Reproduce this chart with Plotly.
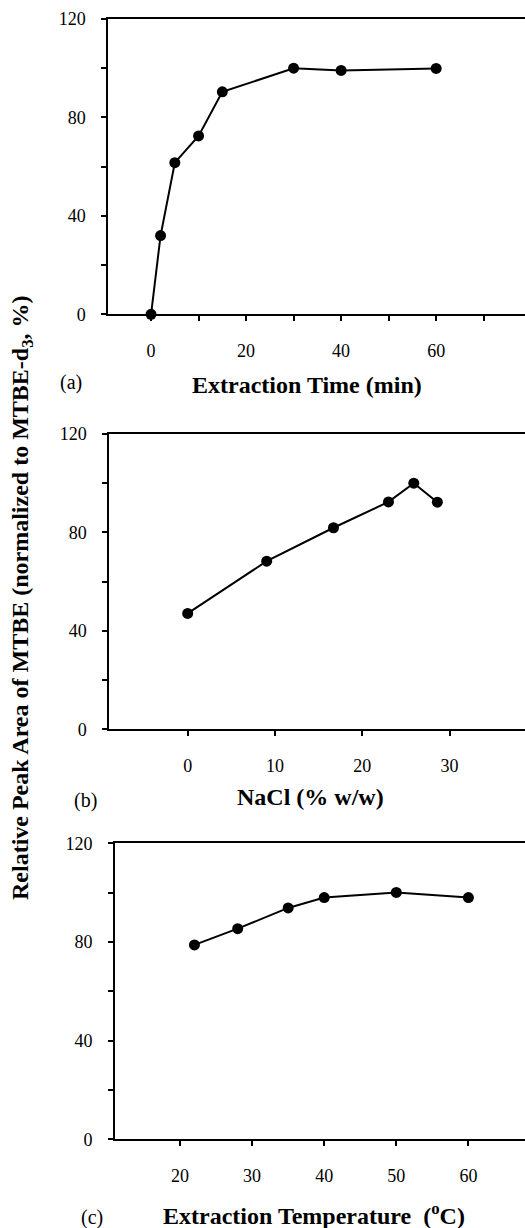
import plotly.graph_objects as go

# Panel (a): extraction time
time_min = [0, 2, 5, 10, 15, 30, 40, 60]
area_time = [0, 32, 61.6, 72.5, 90.4, 100, 99.1, 99.9]

# Panel (b): NaCl
nacl = [0, 9.05, 16.7, 23.0, 25.9, 28.6]
area_nacl = [47.1, 68.3, 81.9, 92.4, 100, 92.3]

# Panel (c): extraction temperature
temp_c = [22, 28, 35, 40, 50, 60]
area_temp = [78.8, 85.4, 93.8, 98.0, 100.1, 98.0]

W, H = 525, 1228
FONT = "Liberation Serif"

fig = go.Figure()
panels = [
    (time_min, area_time, "x", "y"),
    (nacl, area_nacl, "x2", "y2"),
    (temp_c, area_temp, "x3", "y3"),
]
for xs, ys, xa, ya in panels:
    fig.add_trace(go.Scatter(
        x=xs, y=ys, xaxis=xa, yaxis=ya, mode="lines+markers",
        line=dict(color="black", width=2),
        marker=dict(color="black", size=11),
        showlegend=False, cliponaxis=False,
    ))

def px_dom_x(left):
    return [left / W, 1.0]

def px_dom_y(top, bottom):
    return [1 - bottom / H, 1 - top / H]

common_x = dict(
    showline=True, linewidth=2, linecolor="black", mirror=True,
    ticks="outside", ticklen=5, tickwidth=1.5, tickcolor="black",
    showgrid=False, zeroline=False, automargin=False,
    tickfont=dict(family=FONT, size=18, color="black"),
    ticklabelstandoff=14,
)
common_y = dict(
    showline=True, linewidth=2, linecolor="black", mirror=False,
    ticks="outside", ticklen=5, tickwidth=1.5, tickcolor="black",
    showgrid=False, zeroline=False, automargin=False,
    range=[0, 120], tick0=0, dtick=40,
    minor=dict(ticks="outside", ticklen=5, tickwidth=1.5, tickcolor="black", dtick=20, tick0=0, showgrid=False),
    tickfont=dict(family=FONT, size=18, color="black"),
    ticklabelstandoff=12,
)

fig.update_layout(
    width=W, height=H, autosize=False,
    margin=dict(l=0, r=0, t=0, b=0, pad=0, autoexpand=False),
    paper_bgcolor="white", plot_bgcolor="white",
    font=dict(family=FONT, color="black"),
    xaxis=dict(common_x, domain=px_dom_x(108.3), range=[-9, 78.7], anchor="y",
               tick0=0, dtick=20,
               minor=dict(ticks="outside", ticklen=5, tickwidth=1.5, tickcolor="black", dtick=10, tick0=0, showgrid=False)),
    yaxis=dict(common_y, domain=px_dom_y(19, 314.3), anchor="x"),
    xaxis2=dict(common_x, domain=px_dom_x(109.3), range=[-8.98, 38.64], anchor="y2",
                tick0=0, dtick=10),
    yaxis2=dict(common_y, domain=px_dom_y(434, 729.3), anchor="x2"),
    xaxis3=dict(common_x, domain=px_dom_x(115), range=[10.98, 67.85], anchor="y3",
                tick0=0, dtick=10),
    yaxis3=dict(common_y, domain=px_dom_y(843.3, 1139.3), anchor="x3"),
)

def ann(text, x, y, size, angle=0):
    fig.add_annotation(
        text=text, x=x / W, y=1 - y / H, xref="paper", yref="paper",
        xanchor="center", yanchor="middle", showarrow=False, textangle=angle,
        font=dict(family=FONT, size=size, color="black"),
    )

ann("<b>Extraction Time (min)</b>", 307, 385, 24)
ann("<b>NaCl (% w/w)</b>", 310, 797, 24)
ann("<b>Extraction Temperature  (<sup>o</sup>C)</b>", 314, 1214, 24)
ann("(a)", 71, 382, 20)
ann("(b)", 85, 800, 20)
ann("(c)", 92, 1217, 20)
ann("<b>Relative Peak Area of MTBE (normalized to MTBE-d<sub>3</sub>, %)</b>", 22, 598, 24, angle=-90)

fig.write_html(
    "out.html",
    config={"displayModeBar": False},
    post_script="document.body.style.margin='0';document.body.style.overflow='hidden';",
)
